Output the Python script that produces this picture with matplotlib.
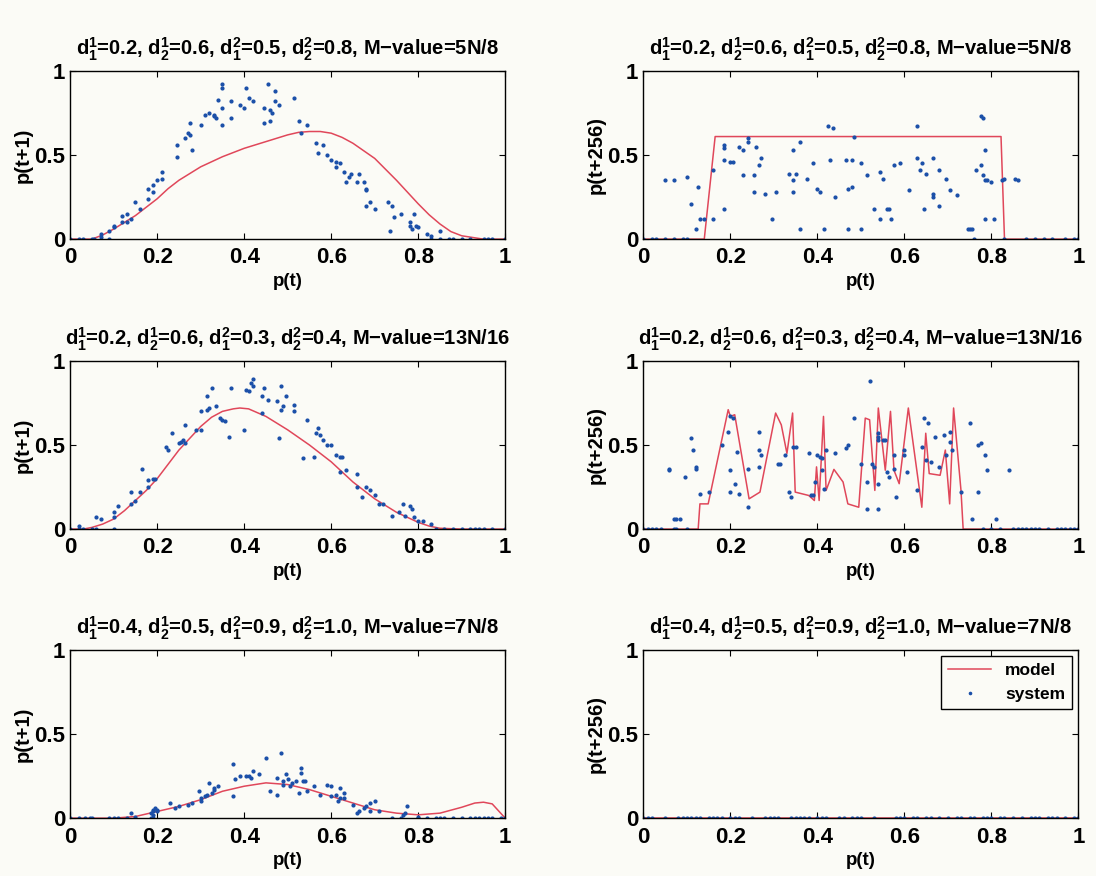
import numpy as np
import matplotlib
matplotlib.use('Agg')
import matplotlib.pyplot as plt

plt.rcParams['font.family'] = ['Liberation Sans Narrow', 'Liberation Sans', 'DejaVu Sans']
plt.rcParams['font.weight'] = 'bold'
plt.rcParams['mathtext.fontset'] = 'custom'
plt.rcParams['mathtext.rm'] = 'Liberation Sans:bold'
plt.rcParams['mathtext.it'] = 'Liberation Sans:bold'
plt.rcParams['mathtext.bf'] = 'Liberation Sans:bold'

# ---------- data ----------
titles = [
    r'd$_1^1$=0.2, d$_2^1$=0.6, d$_1^2$=0.5, d$_2^2$=0.8, M−value=5N/8',
    r'd$_1^1$=0.2, d$_2^1$=0.6, d$_1^2$=0.3, d$_2^2$=0.4, M−value=13N/16',
    r'd$_1^1$=0.4, d$_2^1$=0.5, d$_1^2$=0.9, d$_2^2$=1.0, M−value=7N/8',
]
ylabels = ['p(t+1)', 'p(t+256)']

# panel 1: p(t+1), first setting
m1_x = [0, 0.05, 0.075, 0.1, 0.125, 0.15, 0.175, 0.2, 0.225, 0.25, 0.3, 0.35, 0.4, 0.45, 0.5, 0.525, 0.55,
        0.575, 0.6, 0.625, 0.65, 0.675, 0.7, 0.75, 0.8, 0.825, 0.85, 0.875, 0.9, 0.95, 1.0]
m1_y = [0, 0.0, 0.025, 0.06, 0.1, 0.14, 0.19, 0.24, 0.3, 0.35, 0.43, 0.49, 0.54, 0.58, 0.62, 0.635, 0.64,
        0.64, 0.63, 0.605, 0.57, 0.525, 0.48, 0.35, 0.21, 0.145, 0.09, 0.045, 0.02, 0.0, 0.0]
s1_x = [0.0, 0.02, 0.03, 0.05, 0.055, 0.07, 0.07, 0.09, 0.09, 0.1, 0.1, 0.12, 0.12, 0.13, 0.13, 0.14, 0.15, 0.16,
        0.18, 0.18, 0.19, 0.19, 0.2, 0.21, 0.21, 0.245, 0.245, 0.265, 0.27, 0.275, 0.275, 0.28, 0.3, 0.31, 0.32,
        0.33, 0.33, 0.335, 0.34, 0.35, 0.35, 0.35, 0.35, 0.37, 0.37, 0.39, 0.4, 0.405, 0.41, 0.42, 0.445, 0.445,
        0.455, 0.46, 0.46, 0.465, 0.47, 0.47, 0.48, 0.515, 0.525, 0.53, 0.545, 0.565, 0.57, 0.58, 0.59, 0.6, 0.61,
        0.61, 0.62, 0.63, 0.635, 0.64, 0.645, 0.66, 0.665, 0.675, 0.68, 0.68, 0.68, 0.69, 0.7, 0.73, 0.735, 0.74,
        0.745, 0.76, 0.78, 0.78, 0.785, 0.79, 0.795, 0.8, 0.82, 0.83, 0.83, 0.85, 0.85, 0.87, 0.88, 0.9, 0.92,
        0.95, 0.96, 0.97, 1.0]
s1_y = [0, 0, 0, 0, 0, 0.01, 0.03, 0.05, 0.0, 0.07, 0.08, 0.1, 0.14, 0.15, 0.1, 0.12, 0.22, 0.18,
        0.24, 0.3, 0.28, 0.32, 0.35, 0.36, 0.4, 0.49, 0.56, 0.6, 0.63, 0.62, 0.69, 0.53, 0.68, 0.74, 0.75,
        0.73, 0.74, 0.72, 0.83, 0.68, 0.78, 0.9, 0.92, 0.72, 0.82, 0.8, 0.78, 0.9, 0.84, 0.82, 0.69, 0.78,
        0.92, 0.77, 0.7, 0.75, 0.82, 0.88, 0.8, 0.84, 0.7, 0.63, 0.68, 0.57, 0.51, 0.56, 0.5, 0.47, 0.43,
        0.46, 0.45, 0.4, 0.34, 0.37, 0.39, 0.34, 0.39, 0.34, 0.3, 0.29, 0.2, 0.22, 0.18, 0.22, 0.05, 0.2,
        0.13, 0.15, 0.08, 0.1, 0.06, 0.15, 0.08, 0.07, 0.03, 0.02, 0.0, 0.05, 0.0, 0.0, 0.0, 0.0, 0.0,
        0.0, 0.0, 0.0, 0.0]

# panel 2: p(t+256), first setting
m2_x = [0, 0.14, 0.165, 0.822, 0.83, 1.0]
m2_y = [0, 0, 0.61, 0.61, 0, 0]
s2_x = [0, 0.02, 0.03, 0.05, 0.07, 0.09, 0.1, 0.76, 0.83, 0.88, 0.9, 0.92, 0.94, 0.97, 0.99, 1.0,
        0.05, 0.07, 0.1, 0.11, 0.12, 0.125, 0.13, 0.14, 0.16, 0.16, 0.185, 0.185, 0.185, 0.185, 0.2, 0.205,
        0.22, 0.23, 0.23, 0.24, 0.24, 0.255, 0.255, 0.26, 0.265, 0.27, 0.28, 0.295, 0.305, 0.335, 0.345,
        0.345, 0.345, 0.35, 0.36, 0.36, 0.375, 0.39, 0.4, 0.405, 0.415, 0.425, 0.43, 0.435, 0.44, 0.465,
        0.47, 0.47, 0.48, 0.48, 0.485, 0.5, 0.5, 0.515, 0.53, 0.545, 0.545, 0.55, 0.56, 0.565, 0.57, 0.575,
        0.59, 0.61, 0.63, 0.63, 0.635, 0.64, 0.645, 0.65, 0.665, 0.665, 0.665, 0.68, 0.68, 0.695, 0.705,
        0.72, 0.745, 0.75, 0.755, 0.765, 0.775, 0.775, 0.78, 0.78, 0.785, 0.785, 0.785, 0.79, 0.8, 0.805,
        0.825, 0.83, 0.855, 0.86]
s2_y = [0] * 16 + [
        0.35, 0.35, 0.37, 0.21, 0.06, 0.31, 0.12, 0.12, 0.41, 0.12, 0.56, 0.54, 0.47, 0.18, 0.46, 0.46,
        0.55, 0.53, 0.38, 0.6, 0.58, 0.28, 0.38, 0.55, 0.44, 0.48, 0.27, 0.12, 0.28, 0.39, 0.35,
        0.53, 0.28, 0.39, 0.58, 0.06, 0.36, 0.45, 0.3, 0.28, 0.06, 0.67, 0.47, 0.66, 0.25, 0.47,
        0.3, 0.06, 0.31, 0.47, 0.61, 0.45, 0.06, 0.38, 0.18, 0.4, 0.12, 0.36, 0.18, 0.18, 0.12, 0.44,
        0.45, 0.29, 0.67, 0.48, 0.41, 0.45, 0.18, 0.39, 0.48, 0.27, 0.25, 0.41, 0.2, 0.36, 0.29,
        0.26, 0.06, 0.06, 0.06, 0.41, 0.44, 0.73, 0.72, 0.38, 0.53, 0.35, 0.12, 0.35, 0.34, 0.12,
        0.35, 0.36, 0.36, 0.35]

# panel 3: p(t+1), second setting
m3_x = [0, 0.03, 0.05, 0.075, 0.1, 0.125, 0.15, 0.175, 0.2, 0.25, 0.3, 0.325, 0.35, 0.375, 0.39, 0.41,
        0.45, 0.5, 0.55, 0.6, 0.65, 0.7, 0.75, 0.8, 0.825, 0.85, 0.9, 1.0]
m3_y = [0, 0, 0.01, 0.03, 0.06, 0.11, 0.17, 0.23, 0.3, 0.47, 0.61, 0.665, 0.7, 0.715, 0.72, 0.715,
        0.67, 0.59, 0.5, 0.4, 0.28, 0.18, 0.1, 0.04, 0.018, 0.005, 0, 0]
s3_x = [0.0, 0.02, 0.03, 0.05, 0.06, 0.1, 0.84, 0.86, 0.88, 0.9, 0.92, 0.93, 0.94, 0.95, 0.97, 1.0,
        0.02, 0.06, 0.07, 0.1, 0.1, 0.11, 0.14, 0.14, 0.15, 0.16, 0.165, 0.18, 0.18, 0.19, 0.195, 0.22,
        0.225, 0.235, 0.25, 0.255, 0.26, 0.265, 0.265, 0.29, 0.3, 0.3, 0.315, 0.315, 0.32, 0.325, 0.335,
        0.345, 0.35, 0.355, 0.365, 0.37, 0.4, 0.405, 0.41, 0.415, 0.42, 0.42, 0.44, 0.44, 0.445, 0.455,
        0.475, 0.48, 0.485, 0.485, 0.49, 0.495, 0.515, 0.515, 0.535, 0.545, 0.56, 0.565, 0.57, 0.575,
        0.58, 0.59, 0.6, 0.61, 0.62, 0.625, 0.62, 0.635, 0.66, 0.66, 0.67, 0.68, 0.69, 0.7, 0.71, 0.72,
        0.74, 0.755, 0.765, 0.77, 0.78, 0.785, 0.79, 0.8, 0.81, 0.83]
s3_y = [0] * 16 + [
        0.02, 0.07, 0.06, 0.1, 0.07, 0.14, 0.15, 0.22, 0.17, 0.22, 0.36, 0.25, 0.29, 0.3, 0.3, 0.49,
        0.47, 0.57, 0.51, 0.52, 0.53, 0.62, 0.51, 0.59, 0.7, 0.59, 0.79, 0.71, 0.72, 0.84, 0.73,
        0.66, 0.65, 0.64, 0.55, 0.84, 0.59, 0.83, 0.82, 0.87, 0.89, 0.85, 0.79, 0.69, 0.84, 0.77,
        0.76, 0.54, 0.85, 0.71, 0.73, 0.79, 0.74, 0.7, 0.42, 0.65, 0.43, 0.57, 0.6, 0.56,
        0.53, 0.5, 0.5, 0.44, 0.43, 0.43, 0.34, 0.35, 0.33, 0.25, 0.19, 0.25, 0.23, 0.2, 0.15, 0.15,
        0.08, 0.1, 0.15, 0.08, 0.14, 0.12, 0.07, 0.05, 0.05, 0.03]

# panel 4: p(t+256), second setting
m4_x = [0, 0.126, 0.13, 0.149, 0.195, 0.2, 0.21, 0.243, 0.268, 0.304, 0.317, 0.33, 0.343, 0.349, 0.38,
        0.393, 0.398, 0.404, 0.414, 0.42, 0.438, 0.459, 0.47, 0.495, 0.51, 0.52, 0.532, 0.54, 0.556,
        0.568, 0.576, 0.588, 0.609, 0.64, 0.649, 0.657, 0.682, 0.694, 0.704, 0.713, 0.73, 0.735, 1.0]
m4_y = [0, 0, 0.15, 0.15, 0.71, 0.67, 0.68, 0.18, 0.22, 0.69, 0.62, 0.45, 0.69, 0.22, 0.2,
        0.17, 0.37, 0.17, 0.67, 0.23, 0.355, 0.28, 0.15, 0.13, 0.66, 0.65, 0.23, 0.72, 0.35,
        0.7, 0.35, 0.27, 0.72, 0.13, 0.57, 0.33, 0.32, 0.47, 0.15, 0.72, 0.23, 0, 0]
s4_x = [0.0, 0.01, 0.02, 0.03, 0.04, 0.07, 0.075, 0.1, 0.78, 0.8, 0.82, 0.85, 0.86, 0.87, 0.88, 0.89, 0.9,
        0.91, 0.93, 0.95, 0.96, 0.97, 0.98, 0.99, 1.0,
        0.06, 0.06, 0.07, 0.075, 0.085, 0.095, 0.11, 0.115, 0.12, 0.12, 0.13, 0.15, 0.18, 0.195, 0.2,
        0.2, 0.2, 0.205, 0.21, 0.215, 0.22, 0.24, 0.24, 0.265, 0.265, 0.265, 0.27, 0.31, 0.315, 0.325,
        0.335, 0.34, 0.345, 0.35, 0.38, 0.385, 0.39, 0.395, 0.4, 0.405, 0.41, 0.41, 0.415, 0.42, 0.44,
        0.465, 0.47, 0.485, 0.5, 0.515, 0.515, 0.52, 0.525, 0.53, 0.54, 0.54, 0.54, 0.54, 0.54, 0.55,
        0.555, 0.56, 0.565, 0.575, 0.575, 0.58, 0.6, 0.6, 0.605, 0.63, 0.64, 0.645, 0.65, 0.655, 0.66,
        0.67, 0.68, 0.69, 0.695, 0.705, 0.705, 0.71, 0.73, 0.75, 0.755, 0.77, 0.77, 0.775, 0.785, 0.79,
        0.81, 0.84]
s4_y = [0] * 25 + [
        0.36, 0.35, 0.06, 0.06, 0.06, 0.31, 0.54, 0.47, 0.37, 0.36, 0.21, 0.22, 0.5, 0.58, 0.35,
        0.22, 0.67, 0.66, 0.27, 0.46, 0.21, 0.13, 0.36, 0.58, 0.47, 0.37, 0.44, 0.39, 0.39, 0.44,
        0.22, 0.19, 0.49, 0.49, 0.45, 0.2, 0.2, 0.28, 0.44, 0.43, 0.42, 0.35, 0.24, 0.47, 0.45,
        0.48, 0.5, 0.66, 0.39, 0.28, 0.12, 0.88, 0.39, 0.37, 0.53, 0.55, 0.57, 0.27, 0.12, 0.53,
        0.53, 0.34, 0.31, 0.44, 0.36, 0.19, 0.44, 0.47, 0.34, 0.23, 0.49, 0.66, 0.41, 0.63, 0.4,
        0.55, 0.37, 0.56, 0.44, 0.58, 0.52, 0.47, 0.22, 0.63, 0.06, 0.5, 0.22, 0.51, 0.44, 0.35,
        0.06, 0.35]

# panel 5: p(t+1), third setting
m5_x = [0, 0.1, 0.15, 0.2, 0.25, 0.3, 0.35, 0.4, 0.45, 0.5, 0.55, 0.6, 0.65, 0.7, 0.75, 0.8, 0.85, 0.9,
        0.93, 0.95, 0.97, 1.0]
m5_y = [0, 0, 0.01, 0.04, 0.07, 0.11, 0.16, 0.19, 0.21, 0.2, 0.17, 0.13, 0.09, 0.05, 0.03, 0.02, 0.03, 0.065,
        0.09, 0.095, 0.085, 0]
s5_x = [0.0, 0.02, 0.035, 0.045, 0.05, 0.09, 0.1, 0.11, 0.13, 0.185, 0.19, 0.74, 0.76, 0.8, 0.82, 0.84,
        0.85, 0.86, 0.88, 0.9, 0.92, 0.93, 0.94, 0.95, 0.96, 0.97, 0.99, 1.0,
        0.14, 0.15, 0.185, 0.19, 0.19, 0.19, 0.195, 0.2, 0.2, 0.23, 0.24, 0.25, 0.27, 0.28, 0.295, 0.3,
        0.3, 0.31, 0.315, 0.32, 0.325, 0.33, 0.33, 0.34, 0.375, 0.375, 0.38, 0.39, 0.405, 0.41, 0.415,
        0.42, 0.435, 0.45, 0.46, 0.475, 0.475, 0.485, 0.49, 0.49, 0.495, 0.5, 0.505, 0.51, 0.52, 0.525,
        0.53, 0.53, 0.535, 0.54, 0.545, 0.56, 0.575, 0.59, 0.6, 0.6, 0.61, 0.615, 0.62, 0.62, 0.63, 0.63,
        0.65, 0.66, 0.665, 0.675, 0.68, 0.69, 0.69, 0.7, 0.71, 0.765, 0.77, 0.775, 0.8]
s5_y = [0] * 28 + [
        0.03, 0.01, 0.03, 0.04, 0.02, 0.05, 0.06, 0.05, 0.04, 0.09, 0.06, 0.07, 0.08, 0.09, 0.16, 0.12,
        0.1, 0.13, 0.14, 0.21, 0.15, 0.17, 0.18, 0.19, 0.32, 0.13, 0.23, 0.25, 0.25, 0.25, 0.24,
        0.28, 0.26, 0.36, 0.16, 0.14, 0.24, 0.39, 0.2, 0.22, 0.26, 0.23, 0.19, 0.21, 0.22, 0.15,
        0.27, 0.3, 0.22, 0.22, 0.16, 0.19, 0.14, 0.2, 0.19, 0.13, 0.14, 0.1, 0.12, 0.18, 0.12, 0.15,
        0.08, 0.03, 0.04, 0.06, 0.07, 0.04, 0.09, 0.1, 0.04, 0.02, 0.03, 0.07, 0.01]

# panel 6: p(t+256), third setting (everything collapses to 0)
m6_x = [0, 1.0]
m6_y = [0, 0]
s6_x = [0, 0.01, 0.02, 0.05, 0.08, 0.09, 0.1, 0.11, 0.12, 0.13, 0.15, 0.16, 0.17, 0.18, 0.2, 0.21, 0.22,
        0.25, 0.28, 0.29, 0.3, 0.31, 0.34, 0.35, 0.36, 0.37, 0.38, 0.4, 0.41, 0.42, 0.45, 0.46, 0.48, 0.49,
        0.5, 0.53, 0.58, 0.59, 0.6, 0.62, 0.63, 0.65, 0.66, 0.68, 0.7, 0.72, 0.73, 0.75, 0.76, 0.78, 0.79,
        0.8, 0.82, 0.83, 0.85, 0.87, 0.89, 0.9, 0.91, 0.93, 0.94, 0.95, 0.97, 0.99, 1.0]
s6_y = [0] * len(s6_x)

panels = [
    (m1_x, m1_y, s1_x, s1_y), (m2_x, m2_y, s2_x, s2_y),
    (m3_x, m3_y, s3_x, s3_y), (m4_x, m4_y, s4_x, s4_y),
    (m5_x, m5_y, s5_x, s5_y), (m6_x, m6_y, s6_x, s6_y),
]

# ---------- figure ----------
bg = '#fbfbf6'
red = '#e0475a'
blue = '#1a4fa8'

fig = plt.figure(figsize=(10.96, 8.76), dpi=100, facecolor=bg)

lefts = [0.064, 0.587]
bottoms = [0.727, 0.396, 0.066]
w, h = 0.397, 0.192

for i, (mx, my, sx, sy) in enumerate(panels):
    row, col = divmod(i, 2)
    ax = fig.add_axes([lefts[col], bottoms[row], w, h], facecolor=bg)
    ax.plot(mx, my, color=red, lw=1.1, label='model')
    ax.plot(sx, sy, '.', color=blue, ms=4, label='system')
    ax.set_xlim(0, 1)
    ax.set_ylim(0, 1)
    ax.set_xticks([0, 0.2, 0.4, 0.6, 0.8, 1])
    ax.set_xticklabels(['0', '0.2', '0.4', '0.6', '0.8', '1'])
    ax.set_yticks([0, 0.5, 1])
    ax.set_yticklabels(['0', '0.5', '1'])
    ax.tick_params(axis='x', pad=6)
    ax.tick_params(direction='in', top=True, right=True, length=4, width=0.8,
                   labelsize=16)
    for sp in ax.spines.values():
        sp.set_linewidth(1.0)
    ax.set_title(titles[row], fontsize=14.5, fontweight='bold', pad=11)
    ax.set_xlabel('p(t)', fontsize=13.5, fontweight='bold', labelpad=3)
    ax.set_ylabel(ylabels[col], fontsize=14.5, fontweight='bold', labelpad=1)
    if i == 5:
        leg = ax.legend(loc='upper right', fontsize=12.5, frameon=True, fancybox=False,
                        edgecolor='black', framealpha=1, handlelength=2.5,
                        borderaxespad=0.35, markerscale=0.8)
        leg.get_frame().set_linewidth(1.0)
        leg.get_frame().set_facecolor(bg)

fig.savefig('out.png', dpi=100, facecolor=bg)
